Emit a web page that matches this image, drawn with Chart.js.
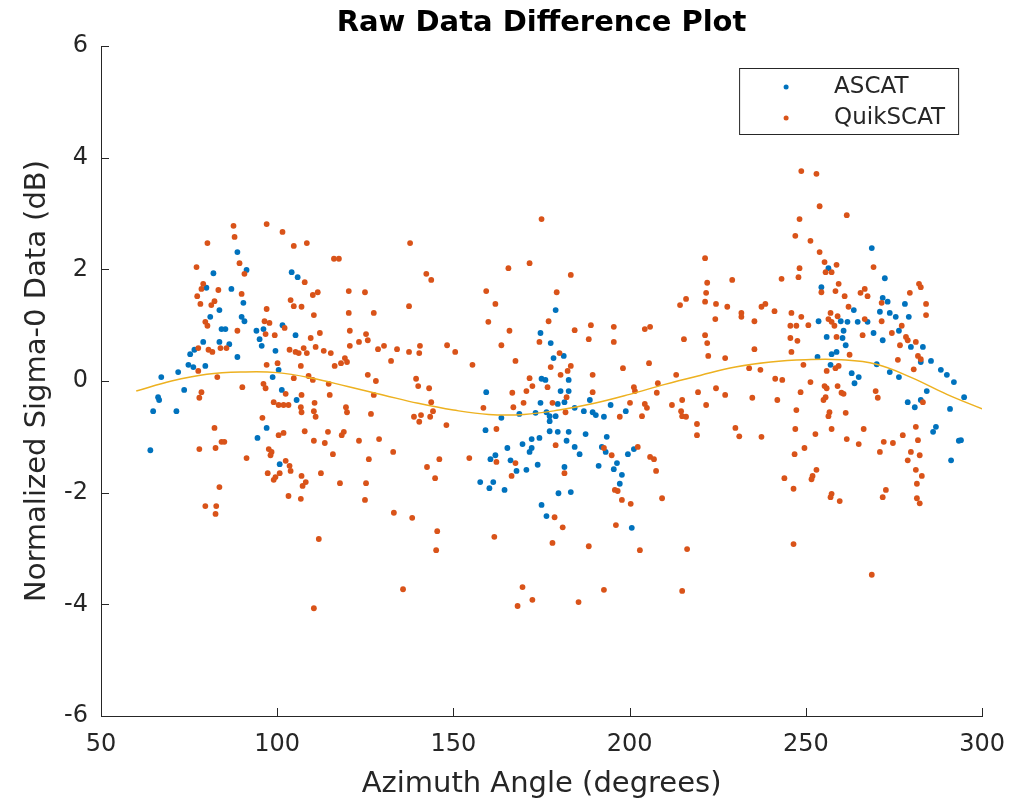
<!DOCTYPE html>
<html>
<head>
<meta charset="utf-8">
<script src="https://cdn.jsdelivr.net/npm/chart.js@4.4.1/dist/chart.umd.min.js"></script>
<style>
  html, body { margin: 0; padding: 0; background: #fff; }
</style>
</head>
<body>
<canvas id="chart" width="1019" height="800"></canvas>
<script>
// azimuth (deg), sigma-0 difference (dB)
const ascatPts = [
  [88.7,2.31],[91.3,1.99],[81.9,1.93],[104.1,1.95],[105.8,1.86],[79.9,1.67],[87.0,1.65],[90.4,1.4],
  [83.6,1.27],[81.0,1.15],[89.9,1.15],[90.7,1.07],[84.2,0.93],[85.3,0.93],[94.1,0.9],[96.1,0.93],
  [101.5,1.0],[105.2,0.82],[95.0,0.75],[79.0,0.7],[83.6,0.7],[86.4,0.66],[95.6,0.63],[75.3,0.48],
  [76.5,0.56],[99.5,0.54],[88.7,0.43],[74.8,0.29],[76.2,0.25],[79.6,0.27],[100.4,0.2],[71.9,0.16],
  [67.1,0.07],[98.7,0.07],[73.6,-0.16],[66.2,-0.29],[66.5,-0.34],[64.8,-0.54],[71.4,-0.54],[64.0,-1.24],
  [101.3,-0.16],[105.5,-0.34],[97.0,-0.84],[94.4,-1.02],[100.7,-1.49],
  [174.7,0.86],[175.0,0.04],[159.3,-0.2],[159.1,-0.88],[163.6,-0.66],[174.7,-0.39],[173.3,-0.57],[168.7,-0.59],
  [165.3,-1.2],[169.6,-1.13],[172.2,-1.04],[174.4,-1.02],[172.2,-1.2],[171.6,-1.27],[160.5,-1.4],[161.9,-1.33],
  [166.2,-1.42],[167.9,-1.61],[170.7,-1.59],[173.9,-1.5],[157.6,-1.81],[161.3,-1.81],[160.2,-1.92],[164.5,-1.95],
  [175.0,-2.22],[179.0,1.27],[177.6,0.68],[178.4,0.41],[181.3,0.45],[182.7,0.02],[176.1,0.02],[182.7,-0.18],
  [180.4,-0.18],[179.6,-0.41],[181.5,-0.38],[176.4,-0.56],[177.3,-0.63],[179.0,-0.63],[177.3,-0.72],[177.3,-0.9],
  [179.6,-0.91],[182.7,-0.91],[182.1,-1.07],[184.4,-1.18],[185.8,-1.31],[187.5,-0.95],[188.7,-0.34],[187.0,-0.54],
  [189.5,-0.56],[190.4,-0.61],[192.7,-0.64],[194.6,-0.43],[198.9,-0.54],[193.5,-1.0],[192.1,-1.18],[193.2,-1.27],
  [191.2,-1.52],[196.4,-1.47],[195.5,-1.58],[197.8,-1.68],[197.2,-1.84],[199.5,-1.31],[201.2,-1.22],[181.5,-1.54],
  [179.8,-2.01],[183.3,-1.99],[176.4,-2.42],[200.6,-2.63],[184.4,-0.48],
  [268.7,2.38],[272.4,1.84],[254.4,1.68],[256.4,2.02],[271.8,1.49],[273.2,1.42],[278.1,1.38],[263.6,1.27],
  [271.0,1.24],[273.8,1.22],[275.5,1.15],[279.2,1.15],[253.6,1.07],[259.9,1.07],[261.8,1.06],[264.7,1.06],
  [267.5,1.06],[260.7,0.9],[269.2,0.86],[276.4,0.9],[271.8,0.73],[255.9,0.79],[260.4,0.77],[261.3,0.64],
  [279.8,0.61],[283.2,0.61],[258.7,0.52],[257.3,0.48],[253.3,0.43],[285.5,0.36],[282.6,0.34],[270.1,0.3],
  [257.0,0.29],[263.0,0.14],[265.0,0.07],[288.3,0.2],[290.0,0.11],[292.0,-0.02],[273.8,0.16],[276.4,0.07],
  [263.8,-0.04],[284.3,-0.18],[282.6,-0.34],[278.9,-0.38],[280.9,-0.47],[294.9,-0.29],[290.9,-0.5],[286.9,-0.82],
  [286.1,-0.91],[294.0,-1.06],[293.4,-1.07],[291.2,-1.42]
];

const quikscatPts = [
  // left group
  [87.6,2.78],[97.0,2.81],[101.5,2.67],[87.9,2.58],[80.2,2.47],[104.7,2.42],[108.4,2.47],[89.3,2.11],
  [77.1,2.04],[90.7,1.92],[107.8,1.77],[79.0,1.74],[78.5,1.65],[83.3,1.63],[89.9,1.56],[77.3,1.52],
  [82.2,1.43],[81.3,1.36],[78.2,1.38],[103.8,1.45],[104.7,1.34],[106.9,1.33],[110.1,1.54],[111.5,1.59],
  [97.0,1.29],[110.4,1.18],[79.6,1.06],[80.2,0.99],[96.4,1.07],[97.8,1.04],[88.7,0.9],[102.1,0.95],
  [96.7,0.84],[99.3,0.82],[112.1,0.86],[109.5,0.77],[77.6,0.59],[80.5,0.56],[81.6,0.52],[83.9,0.59],
  [85.6,0.59],[103.5,0.56],[105.2,0.52],[106.1,0.5],[107.5,0.59],[108.4,0.5],[110.9,0.61],[100.1,0.32],
  [97.0,0.29],[106.7,0.27],[77.6,0.18],[83.0,0.07],[104.7,0.05],[108.9,0.09],[110.1,0.02],
  [78.5,-0.2],[77.9,-0.3],[82.2,-0.84],[77.9,-1.22],[82.5,-1.2],[84.2,-1.09],[85.0,-1.09],[83.6,-1.9],
  [79.6,-2.24],[82.7,-2.24],[82.5,-2.38],[90.1,-0.11],[96.1,-0.05],[96.7,-0.13],[102.4,-0.23],[106.9,-0.25],
  [99.0,-0.38],[100.4,-0.43],[101.8,-0.43],[103.2,-0.43],[106.7,-0.47],[106.9,-0.56],[110.6,-0.39],[110.4,-0.54],
  [110.9,-0.64],[95.8,-0.66],[100.4,-0.97],[101.8,-0.93],[107.8,-0.9],[110.4,-1.07],[91.3,-1.38],[97.6,-1.22],
  [98.4,-1.27],[98.1,-1.33],[102.4,-1.43],[103.5,-1.52],[103.8,-1.61],[97.3,-1.65],[99.5,-1.72],[99.0,-1.77],
  [100.7,-1.65],[106.9,-1.7],[108.1,-1.81],[107.2,-1.88],[112.4,-1.65],[103.2,-2.06],[106.7,-2.11],[111.8,-2.83],
  [110.4,-4.07],
  // middle group
  [175.0,2.9],[137.7,2.47],[116.1,2.19],[117.5,2.19],[165.6,2.02],[171.6,2.11],[142.3,1.92],[143.7,1.81],
  [120.3,1.61],[124.9,1.59],[159.3,1.61],[161.9,1.38],[137.4,1.34],[120.3,1.22],[127.4,1.22],[159.9,1.06],
  [120.6,0.9],[125.2,0.84],[125.7,0.73],[165.9,0.9],[174.4,0.7],[123.2,0.7],[120.6,0.63],[130.3,0.63],
  [128.6,0.57],[134.0,0.57],[140.5,0.63],[148.2,0.64],[137.4,0.52],[140.3,0.5],[150.5,0.52],[163.6,0.64],
  [113.2,0.54],[115.2,0.5],[119.2,0.41],[119.8,0.34],[118.1,0.32],[116.3,0.27],[132.3,0.36],[155.4,0.29],
  [167.6,0.36],[125.7,0.11],[128.0,0.0],[139.4,0.04],[171.6,0.05],
  [114.6,-0.05],[140.0,-0.09],[143.1,-0.13],[114.9,-0.25],[127.4,-0.25],[119.5,-0.47],[119.8,-0.56],[126.6,-0.59],
  [143.7,-0.38],[144.2,-0.54],[143.4,-0.64],[138.8,-0.64],[140.3,-0.73],[140.8,-0.61],[148.0,-0.79],[114.4,-0.91],
  [118.9,-0.91],[118.3,-0.97],[113.5,-1.11],[123.2,-1.07],[128.9,-1.04],[115.8,-1.31],[132.9,-1.27],[126.0,-1.4],
  [146.0,-1.4],[142.5,-1.54],[144.8,-1.74],[154.5,-1.38],[117.8,-1.83],[125.2,-1.83],[124.9,-2.13],[133.1,-2.36],
  [138.3,-2.45],[145.4,-2.69],[145.1,-3.03],[135.7,-3.73],[161.6,-2.79],[169.6,-3.69],[172.4,-3.92],[168.2,-4.03],
  [166.7,-0.21],[170.7,-0.18],[169.9,-0.39],[167.0,-0.47],[158.5,-0.48],[162.2,-0.86],[162.2,-1.45],[166.5,-1.7],
  [167.6,-1.47],[172.4,-0.09],
  [183.3,1.9],[179.3,1.59],[177.0,1.07],[184.4,0.91],[189.0,1.0],[188.4,0.75],[195.5,0.97],[195.5,0.7],
  [204.3,0.93],[205.8,0.97],[205.5,0.32],[198.1,0.23],[189.5,0.11],[213.2,0.11],[180.1,0.5],[177.6,0.25],
  [180.4,0.11],[182.4,0.18],[183.3,0.27],[208.0,-0.04],
  [221.4,2.2],[229.1,1.81],[222.0,1.76],[221.7,1.58],[221.4,1.42],[214.3,1.36],[216.0,1.47],[224.5,1.38],
  [227.7,1.33],[231.7,1.22],[231.7,1.15],[224.3,1.11],[235.4,1.07],[237.4,1.33],[215.4,0.75],[221.4,0.82],
  [222.0,0.68],[222.3,0.45],[227.1,0.41],[235.4,0.57],[233.9,0.23],[237.1,0.2],
  [176.7,-0.11],[178.1,-0.39],[181.8,-0.56],[189.5,-0.2],[182.1,-0.29],[179.0,-1.15],[181.5,-1.65],[178.7,-2.44],
  [181.0,-2.62],[178.1,-2.9],[188.4,-2.96],[192.7,-3.74],[185.5,-3.96],[194.9,-1.33],[192.7,-1.2],[195.8,-1.95],
  [196.6,-1.97],[197.8,-2.13],[200.3,-2.2],[196.1,-2.58],[202.9,-3.03],[202.3,-1.18],[205.8,-1.36],[206.9,-1.4],
  [207.5,-1.61],[209.2,-2.1],[214.9,-3.76],[216.3,-3.01],[197.2,-0.64],[200.1,-0.39],[201.2,-0.11],[201.5,-0.18],
  [203.5,-0.63],[204.3,-0.41],[204.9,-0.48],[207.7,-0.21],[212.0,-0.43],[214.9,-0.34],[214.6,-0.54],[214.9,-0.63],
  [216.0,-0.64],[219.1,-0.77],[219.1,-0.97],[219.4,-0.2],[221.7,-0.43],[224.5,-0.13],[227.1,-0.25],[230.0,-0.84],
  [231.1,-0.99],[234.8,-0.3],[237.4,-1.0],
  // right group
  [248.7,3.76],[253.0,3.71],[253.9,3.13],[261.6,2.97],[248.2,2.9],[247.0,2.6],[251.3,2.51],[253.9,2.31],
  [255.3,2.13],[248.2,2.02],[258.7,2.08],[255.6,1.95],[257.3,1.95],[269.2,2.04],[243.1,1.83],[247.9,1.86],
  [259.3,1.74],[258.4,1.61],[254.4,1.59],[261.0,1.52],[265.5,1.58],[266.7,1.65],[267.5,1.52],[282.1,1.74],
  [282.6,1.68],[279.5,1.58],[284.1,1.38],[284.1,1.18],[238.5,1.38],[241.1,1.25],[245.9,1.22],[248.7,1.15],
  [245.6,0.99],[247.3,0.99],[250.7,1.0],[257.0,1.22],[259.0,1.16],[256.4,1.11],[257.3,1.06],[258.1,0.99],
  [262.1,1.33],[266.7,1.11],[271.5,1.4],[271.5,1.07],[274.4,0.86],[277.2,0.99],[266.1,0.82],[245.6,0.77],
  [247.6,0.72],[258.7,0.79],[245.9,0.52],[249.3,0.29],[262.4,0.47],[276.7,0.64],[278.4,0.79],[278.9,0.73],
  [281.2,0.7],[281.8,0.45],[282.6,0.39],[276.1,0.38],[280.6,0.21],[259.3,0.27],[258.4,0.23],[255.9,0.18],
  [241.3,0.04],[243.3,0.02],[251.3,-0.02],
  [255.3,-0.09],[255.9,-0.13],[259.0,-0.09],[260.1,-0.21],[260.7,-0.23],[248.5,-0.2],[255.6,-0.29],[255.0,-0.34],
  [241.9,-0.34],[247.3,-0.52],[256.7,-0.56],[256.4,-0.63],[261.3,-0.57],[269.8,-0.18],[270.4,-0.3],[247.0,-0.86],
  [252.7,-0.95],[257.3,-0.86],[266.4,-0.86],[261.6,-1.04],[265.0,-1.13],[249.6,-1.2],[246.8,-1.31],[272.1,-1.09],
  [274.7,-1.11],[271.0,-1.27],[277.5,-0.97],[281.2,-0.82],[281.8,-1.06],[279.8,-1.27],[278.9,-1.42],[282.3,-1.33],
  [281.2,-1.59],[282.9,-1.7],[281.5,-1.84],[253.0,-1.59],[251.9,-1.7],[251.6,-1.76],[243.9,-1.74],[246.5,-1.93],
  [272.7,-1.95],[271.8,-2.08],[257.3,-2.02],[257.0,-2.08],[259.6,-2.15],[281.5,-2.1],[282.3,-2.19],[246.5,-2.92],
  [268.7,-3.47],[283.2,-0.38]
];

// fitted curve
const fitAz  = [60, 70, 80, 90, 100, 110, 120, 130, 140, 150, 160, 170, 180, 190, 200, 210, 220, 230, 240, 250, 260, 270, 280, 290, 300];
const fitSig = [-0.18, 0.0, 0.12, 0.16, 0.15, 0.05, -0.1, -0.25, -0.4, -0.52, -0.6, -0.6, -0.52, -0.4, -0.24, -0.06, 0.1, 0.25, 0.34, 0.38, 0.38, 0.3, 0.06, -0.24, -0.5];

const xTicks = [50, 100, 150, 200, 250, 300];
const yTicks = [-6, -4, -2, 0, 2, 4, 6];
const seriesNames = ['ASCAT', 'QuikSCAT'];

const ink = '#262626';
const fontFam = '"DejaVu Sans", sans-serif';
const blue = '#0072BD', orange = '#D95319', gold = '#EDB120';

const toXY = pts => pts.map(p => ({ x: p[0], y: p[1] }));

// inward ticks, title, boxed legend (matlab look)
const matlabBits = {
    id: 'matlabBits',
    afterDraw(chart) {
        const { ctx, chartArea: a } = chart;
        const xs = chart.scales.x, ys = chart.scales.y;
        ctx.save();
        ctx.strokeStyle = ink;
        ctx.lineWidth = 1;
        ctx.beginPath();
        xTicks.forEach(v => {
            const px = Math.round(xs.getPixelForValue(v)) + 0.5;
            ctx.moveTo(px, a.bottom);
            ctx.lineTo(px, a.bottom - 8);
        });
        yTicks.forEach(v => {
            const py = Math.round(ys.getPixelForValue(v)) + 0.5;
            ctx.moveTo(a.left, py);
            ctx.lineTo(a.left + 8, py);
        });
        ctx.stroke();

        ctx.fillStyle = '#000';
        ctx.font = 'bold 29px ' + fontFam;
        ctx.textAlign = 'center';
        ctx.textBaseline = 'middle';
        ctx.fillText('Raw Data Difference Plot', (a.left + a.right) / 2, 23);

        // legend
        const bx = a.right - 243, by = a.top + 22, bw = 219, bh = 66;
        ctx.fillStyle = '#fff';
        ctx.fillRect(bx, by, bw, bh);
        ctx.strokeStyle = ink;
        ctx.strokeRect(bx + 0.5, by + 0.5, bw, bh);
        ctx.font = '23px ' + fontFam;
        ctx.textAlign = 'left';
        [blue, orange].forEach((c, i) => {
            const cy = by + 19 + i * 31;
            ctx.fillStyle = c;
            ctx.beginPath();
            ctx.arc(bx + 47, cy, 2.5, 0, Math.PI * 2);
            ctx.fill();
            ctx.fillStyle = ink;
            ctx.fillText(seriesNames[i], bx + 95, cy);
        });
        ctx.restore();
    }
};

new Chart(document.getElementById('chart'), {
    type: 'scatter',
    data: {
        datasets: [
            {
                type: 'line',
                label: 'fit',
                data: fitAz.map((x, i) => ({ x, y: fitSig[i] })),
                borderColor: gold,
                borderWidth: 1.5,
                pointRadius: 0,
                tension: 0.4,
                fill: false,
                order: 0
            },
            {
                label: seriesNames[1],
                data: toXY(quikscatPts),
                backgroundColor: orange,
                borderWidth: 0,
                pointRadius: 2.9,
                order: 1
            },
            {
                label: seriesNames[0],
                data: toXY(ascatPts),
                backgroundColor: blue,
                borderWidth: 0,
                pointRadius: 2.9,
                order: 2
            }
        ]
    },
    options: {
        responsive: false,
        animation: false,
        devicePixelRatio: 1,
        layout: { padding: { top: 46, right: 34, left: 0, bottom: 0 } },
        plugins: { legend: { display: false }, tooltip: { enabled: false }, title: { display: false } },
        scales: {
            x: {
                type: 'linear',
                min: 50, max: 300,
                afterBuildTicks: s => { s.ticks = xTicks.map(v => ({ value: v })); },
                afterFit: s => { s.height = 84; },
                ticks: { color: ink, font: { family: fontFam, size: 24 }, padding: 14, maxRotation: 0 },
                grid: { display: true, drawOnChartArea: false, drawTicks: false },
                border: { display: true, color: ink, width: 1 },
                title: { display: true, text: 'Azimuth Angle (degrees)', color: ink,
                         font: { family: fontFam, size: 29, lineHeight: 1 }, padding: { top: 0, bottom: 1 } }
            },
            y: {
                min: -6, max: 6,
                afterBuildTicks: s => { s.ticks = yTicks.map(v => ({ value: v })); },
                afterFit: s => { s.width = 101; },
                ticks: { color: ink, font: { family: fontFam, size: 24 }, padding: 13 },
                grid: { display: true, drawOnChartArea: false, drawTicks: false },
                border: { display: true, color: ink, width: 1 },
                title: { display: true, text: 'Normalized Sigma-0 Data (dB)', color: ink,
                         font: { family: fontFam, size: 29, lineHeight: 1 }, padding: { top: 23, bottom: 0 } }
            }
        }
    },
    plugins: [matlabBits]
});
</script>
</body>
</html>
